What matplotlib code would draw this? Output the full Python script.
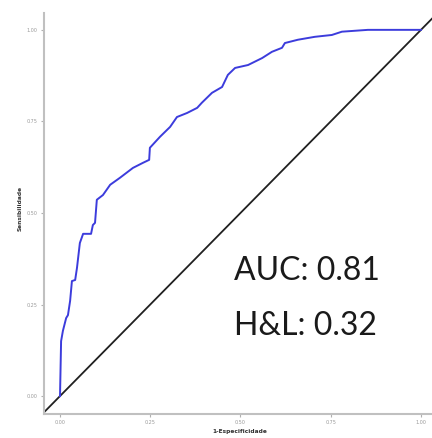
import matplotlib
matplotlib.use("Agg")
import matplotlib.pyplot as plt

fpr = [0.0, 0.003, 0.008, 0.017, 0.022, 0.028, 0.033, 0.042, 0.047, 0.055, 0.064,
       0.086, 0.091, 0.097, 0.102, 0.119, 0.139, 0.166, 0.202, 0.230, 0.247, 0.249,
       0.277, 0.305, 0.324, 0.352, 0.380, 0.393, 0.421, 0.449, 0.465, 0.485, 0.521,
       0.560, 0.587, 0.615, 0.623, 0.659, 0.706, 0.753, 0.781, 0.853, 1.0]
tpr = [0.0, 0.150, 0.178, 0.213, 0.221, 0.260, 0.314, 0.317, 0.350, 0.418, 0.443,
       0.443, 0.467, 0.473, 0.536, 0.549, 0.577, 0.596, 0.623, 0.637, 0.645, 0.678,
       0.708, 0.735, 0.762, 0.773, 0.787, 0.801, 0.828, 0.844, 0.877, 0.896, 0.904,
       0.923, 0.940, 0.951, 0.964, 0.973, 0.981, 0.986, 0.995, 1.0, 1.0]
ticks = [0.00, 0.25, 0.50, 0.75, 1.00]
tick_labels = ["0.00", "0.25", "0.50", "0.75", "1.00"]
annotations = ["AUC: 0.81", "H&L: 0.32"]

fig = plt.figure(figsize=(4.32, 4.38), dpi=100)
ax = fig.add_axes([0.1019, 0.0548, 0.911, 0.9155])
ax.set_xlim(-0.0443, 1.046)
ax.set_ylim(-0.049, 1.046)

ax.axline((0, 0), slope=1, color="#202020", lw=1.3, zorder=2)
ax.plot(fpr, tpr, color="#3c3cdc", lw=1.4, zorder=3)

ax.set_xticks(ticks)
ax.set_xticklabels(tick_labels)
ax.set_yticks(ticks)
ax.set_yticklabels(tick_labels)
ax.tick_params(axis="both", colors="#b0b0b0", labelcolor="#9a9a9a",
               labelsize=3.5, length=2.5, width=0.8, pad=2)
for s in ["top", "right"]:
    ax.spines[s].set_visible(False)
for s in ["left", "bottom"]:
    ax.spines[s].set_color("#c0c0c0")
    ax.spines[s].set_linewidth(1.5)

fig.text(240 / 432, 1 - 431 / 438, "1-Especificidade", ha="center", va="center",
         fontsize=4.2, fontweight="bold", color="#303030")
fig.text(20 / 432, 1 - 208 / 438, "Sensibilidade", ha="center", va="center",
         rotation=90, fontsize=4.2, fontweight="bold", color="#303030")

ax.text(0.482, 0.317, annotations[0], fontsize=23, family="Lato", color="#1a1a1a",
        ha="left", va="baseline")
ax.text(0.482, 0.167, annotations[1], fontsize=23, family="Lato", color="#1a1a1a",
        ha="left", va="baseline")

fig.savefig("out.png", dpi=100)
